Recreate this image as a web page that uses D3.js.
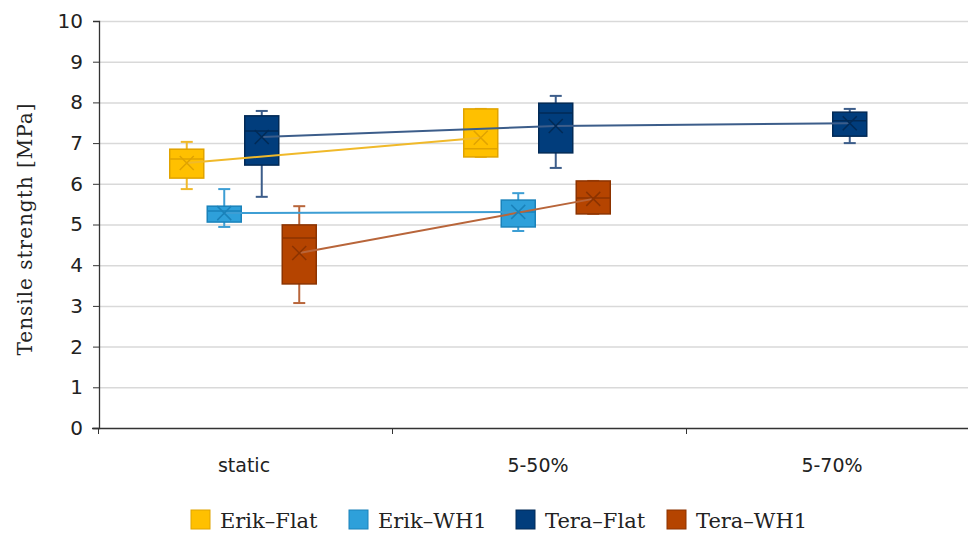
<!DOCTYPE html>
<html>
<head>
<meta charset="utf-8">
<script src="https://cdn.jsdelivr.net/npm/d3@7"></script>
<style>
  body { margin: 0; background: #fff; }
  svg { display: block; }
  .ytick text { font-family: "DejaVu Sans", Verdana, sans-serif; font-size: 20px; fill: #222; }
  .xtick text { font-family: "DejaVu Sans", sans-serif; font-size: 19px; fill: #222; }
  .legend text { font-family: "DejaVu Serif", serif; font-size: 21px; fill: #222; }
  .ylabel { font-family: "DejaVu Serif", serif; font-size: 20px; letter-spacing: 1px; fill: #222; }
</style>
</head>
<body>
<div class="container"></div>
<script>
const w = 968;
const h = 533;

/* categories and series */
const categories = ["static", "5-50%", "5-70%"];
const series = ["Erik\u2013Flat", "Erik\u2013WH1", "Tera\u2013Flat", "Tera\u2013WH1"];
const yTicks = [0, 1, 2, 3, 4, 5, 6, 7, 8, 9, 10];

/* box statistics per series, one value per category (null = no test) */
const erikFlatMin    = [5.87, 6.66, null];
const erikFlatQ1     = [6.14, 6.66, null];
const erikFlatMedian = [6.61, 6.86, null];
const erikFlatQ3     = [6.85, 7.84, null];
const erikFlatMax    = [7.03, 7.84, null];
const erikFlatMean   = [6.51, 7.13, null];

const erikWh1Min    = [4.94, 4.84, null];
const erikWh1Q1     = [5.06, 4.94, null];
const erikWh1Median = [5.33, 5.31, null];
const erikWh1Q3     = [5.45, 5.60, null];
const erikWh1Max    = [5.87, 5.77, null];
const erikWh1Mean   = [5.28, 5.31, null];

const teraFlatMin    = [5.68, 6.39, 7.00];
const teraFlatQ1     = [6.46, 6.76, 7.17];
const teraFlatMedian = [7.30, 7.74, 7.55];
const teraFlatQ3     = [7.67, 7.98, 7.76];
const teraFlatMax    = [7.79, 8.16, 7.84];
const teraFlatMean   = [7.15, 7.42, 7.49];

const teraWh1Min    = [3.07, 5.26, null];
const teraWh1Q1     = [3.54, 5.26, null];
const teraWh1Median = [4.67, 5.65, null];
const teraWh1Q3     = [4.99, 6.07, null];
const teraWh1Max    = [5.45, 6.07, null];
const teraWh1Mean   = [4.30, 5.63, null];

const stats = [
  [erikFlatMin, erikFlatQ1, erikFlatMedian, erikFlatQ3, erikFlatMax, erikFlatMean],
  [erikWh1Min, erikWh1Q1, erikWh1Median, erikWh1Q3, erikWh1Max, erikWh1Mean],
  [teraFlatMin, teraFlatQ1, teraFlatMedian, teraFlatQ3, teraFlatMax, teraFlatMean],
  [teraWh1Min, teraWh1Q1, teraWh1Median, teraWh1Q3, teraWh1Max, teraWh1Mean]
];

const fills   = ["#ffc000", "#2ea0da", "#013d7c", "#b54400"];
const strokes = ["#e0a300", "#1a82ba", "#022a56", "#8c3300"];
const lines   = ["#f0b92a", "#3d9ed4", "#3c5d8a", "#b8653a"];

const boxes = [];
series.forEach((s, i) => {
  categories.forEach((c, j) => {
    if (stats[i][0][j] === null) return;
    boxes.push({
      series: s, si: i, cat: c,
      min: stats[i][0][j], q1: stats[i][1][j], median: stats[i][2][j],
      q3: stats[i][3][j], max: stats[i][4][j], mean: stats[i][5][j]
    });
  });
});

/* scales */
const xScale = d3.scaleBand().domain(categories).range([98, 980]);
const xInner = d3.scaleBand().domain(series).range([70, 220]);
const yScale = d3.scaleLinear().domain([0, 10]).range([428, 21]);
const cx = (d) => xScale(d.cat) + xInner(d.series) + xInner.bandwidth() / 2;
const boxW = 34;

const svg = d3.select(".container")
              .append("svg")
              .attr("width", w)
              .attr("height", h);

/* gridlines */
svg.append("g")
   .selectAll("line")
   .data(yTicks.filter((t) => t > 0))
   .enter()
   .append("line")
   .attr("x1", 99)
   .attr("x2", w)
   .attr("y1", (d) => yScale(d) + 0.5)
   .attr("y2", (d) => yScale(d) + 0.5)
   .attr("stroke", "#d9d9d9")
   .attr("stroke-width", 1.5);

/* y axis */
const yAxis = d3.axisLeft(yScale).tickValues(yTicks).tickSize(6).tickPadding(10);
const gy = svg.append("g")
   .attr("class", "ytick")
   .attr("transform", "translate(99,0)")
   .call(yAxis);
gy.select(".domain").attr("stroke", "#333").attr("stroke-width", 1.3);
gy.selectAll("line").attr("stroke", "#333");

/* x axis */
const xAxis = d3.axisBottom(xScale).tickValues([]).tickSizeOuter(0);
const gx = svg.append("g")
   .attr("transform", "translate(0,428)")
   .call(xAxis);
gx.select(".domain").attr("stroke", "#333").attr("stroke-width", 1.3).attr("d", "M92,0.5H980");
gx.selectAll(".sep")
  .data(categories)
  .enter()
  .append("line")
  .attr("class", "sep")
  .attr("x1", (d) => xScale(d) + 0.5)
  .attr("x2", (d) => xScale(d) + 0.5)
  .attr("y1", 0)
  .attr("y2", 6)
  .attr("stroke", "#333");

svg.append("g")
   .attr("class", "xtick")
   .selectAll("text")
   .data(categories)
   .enter()
   .append("text")
   .attr("x", (d) => xScale(d) + xScale.bandwidth() / 2 - 1)
   .attr("y", 472)
   .attr("text-anchor", "middle")
   .text((d) => d);

/* y label */
svg.append("text")
   .attr("class", "ylabel")
   .attr("transform", "translate(32,229) rotate(-90)")
   .attr("text-anchor", "middle")
   .text("Tensile strength [MPa]");

/* boxes */
const g = svg.selectAll(".box")
   .data(boxes)
   .enter()
   .append("g")
   .attr("class", "box");

g.append("line")
 .attr("x1", cx).attr("x2", cx)
 .attr("y1", (d) => yScale(d.max))
 .attr("y2", (d) => yScale(d.min))
 .attr("stroke", (d) => lines[d.si])
 .attr("stroke-width", 2);

["min", "max"].forEach((k) => {
  g.append("line")
   .attr("x1", (d) => cx(d) - 6).attr("x2", (d) => cx(d) + 6)
   .attr("y1", (d) => yScale(d[k])).attr("y2", (d) => yScale(d[k]))
   .attr("stroke", (d) => lines[d.si])
   .attr("stroke-width", 2);
});

g.append("rect")
 .attr("x", (d) => cx(d) - boxW / 2)
 .attr("width", boxW)
 .attr("y", (d) => yScale(d.q3))
 .attr("height", (d) => yScale(d.q1) - yScale(d.q3))
 .attr("fill", (d) => fills[d.si])
 .attr("stroke", (d) => strokes[d.si])
 .attr("stroke-width", 1.5);

g.append("line")
 .attr("x1", (d) => cx(d) - boxW / 2).attr("x2", (d) => cx(d) + boxW / 2)
 .attr("y1", (d) => yScale(d.median)).attr("y2", (d) => yScale(d.median))
 .attr("stroke", (d) => strokes[d.si])
 .attr("stroke-width", 1.5);

/* mean lines, drawn over the boxes */
const lineGen = d3.line().x((d) => cx(d)).y((d) => yScale(d.mean));
series.forEach((s, i) => {
  const pts = boxes.filter((b) => b.si === i);
  svg.append("path")
     .datum(pts)
     .attr("d", lineGen)
     .attr("fill", "none")
     .attr("stroke", lines[i])
     .attr("stroke-width", 2);
});

/* mean marker */
svg.selectAll(".mean")
 .data(boxes)
 .enter()
 .append("path")
 .attr("class", "mean")
 .attr("d", (d) => {
   const x = cx(d), y = yScale(d.mean), s = 7;
   return `M${x - s},${y - s}L${x + s},${y + s}M${x - s},${y + s}L${x + s},${y - s}`;
 })
 .attr("stroke", (d) => strokes[d.si])
 .attr("stroke-width", 1.5);

/* legend */
const legendX = [191, 349, 516, 667];
const lg = svg.append("g").attr("class", "legend")
   .selectAll("g")
   .data(series)
   .enter()
   .append("g")
   .attr("transform", (d, i) => `translate(${legendX[i]},510)`);
lg.append("rect")
  .attr("width", 19).attr("height", 19)
  .attr("fill", (d, i) => fills[i])
  .attr("stroke", (d, i) => strokes[i]);
lg.append("text")
  .attr("x", 29).attr("y", 18)
  .text((d) => d);
</script>
</body>
</html>
